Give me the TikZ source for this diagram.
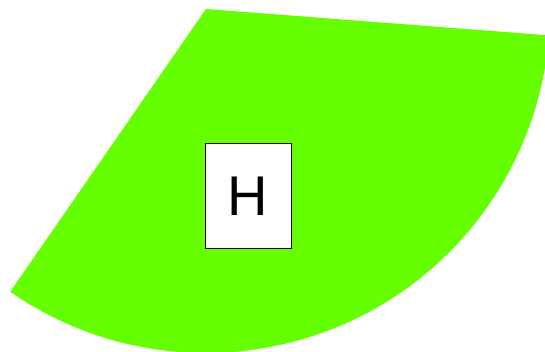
\documentclass[tikz,border=0pt]{standalone}
\usepackage{fontspec}
\setmainfont{Liberation Sans}
\definecolor{leafgreen}{HTML}{66FF00}
\begin{document}
\begin{tikzpicture}[x=1pt,y=1pt]
      \useasboundingbox (0,0) rectangle (545,352);
      \clip (0,0) rectangle (545,352);
      \coordinate (apex) at (206,343);
      \fill[leafgreen] (apex) -- ++(235.3:344) arc[start angle=235.3,end angle=355.6,radius=344] -- cycle;
      \node[draw=black,line width=1pt,fill=white,minimum width=86pt,minimum height=105pt,inner sep=0pt,font=\fontsize{56}{60}\selectfont] (h) at (248,155.5) {H};
    \end{tikzpicture}
\end{document}
